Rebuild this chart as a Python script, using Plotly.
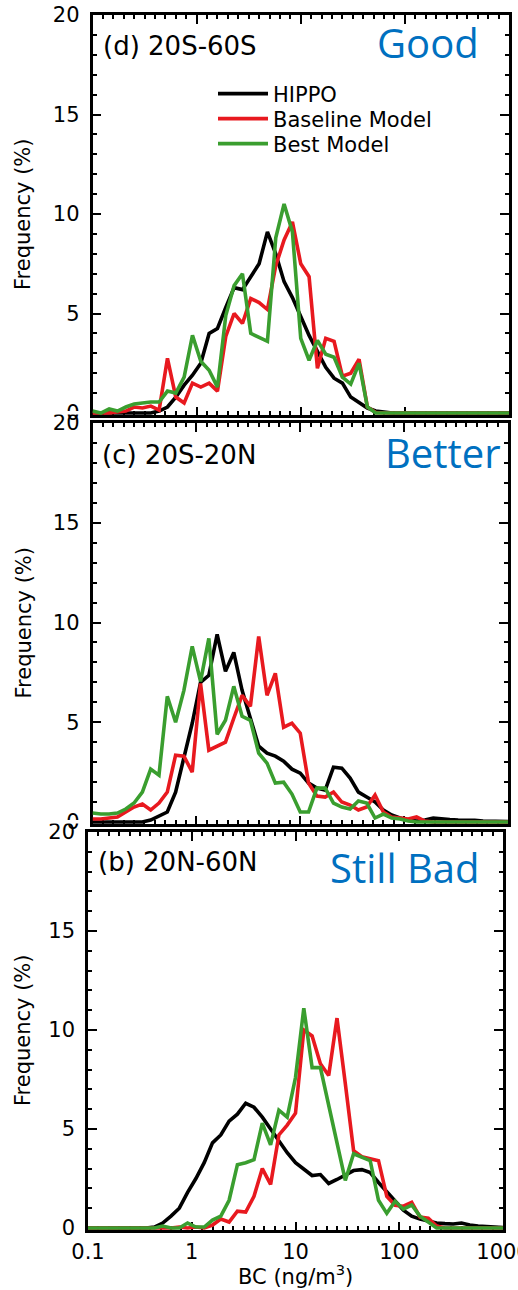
import plotly.graph_objects as go

# ---------------- data ----------------
# BC bin positions (ng/m3): log-spaced grid from 0.1 to 1000 (51 points)
BC_BINS = [round(10 ** (-1 + 0.08 * i), 5) for i in range(51)]

SERIES_NAMES = ["HIPPO", "Baseline Model", "Best Model"]
SERIES_COLORS = ["#000000", "#E8191F", "#3A9E2F"]

# (d) 20S-60S
D_HIPPO = [0, 0, 0, 0, 0, 0, 0, 0.0, 0.1, 0.3, 0.8, 1.4, 1.9, 2.5, 4.0, 4.25, 5.3, 6.3, 6.2, 6.85,
           7.5, 9.1, 8.0, 6.6, 5.8, 4.85, 3.9, 3.1, 2.3, 1.75, 1.5, 0.8, 0.5, 0.25, 0.1, 0.05,
           0, 0, 0, 0, 0, 0, 0, 0, 0, 0, 0, 0, 0, 0, 0]
D_BASE = [0, 0, 0, 0.05, 0.1, 0.3, 0.25, 0.35, 0.15, 2.75, 0.8, 0.5, 1.5, 1.3, 1.5, 1.1, 3.85, 5.0,
          4.5, 5.75, 5.55, 5.2, 7.4, 8.7, 9.6, 7.5, 6.85, 2.25, 3.75, 3.6, 1.85, 2.0, 2.7, 0.3, 0.02,
          0, 0, 0, 0, 0, 0, 0, 0, 0, 0, 0, 0, 0, 0, 0, 0]
D_BEST = [0.1, 0.0, 0.2, 0.1, 0.3, 0.45, 0.5, 0.55, 0.55, 1.1, 1.0, 1.8, 3.9, 2.6, 2.15, 1.3, 4.9,
          6.4, 7.0, 4.0, 3.8, 3.6, 8.8, 10.5, 9.1, 3.75, 2.65, 3.65, 2.95, 2.8, 1.8, 1.45, 2.5, 0.3,
          0, 0, 0, 0, 0, 0, 0, 0, 0, 0, 0, 0, 0, 0, 0, 0, 0]

# (c) 20S-20N
C_HIPPO = [0, 0, 0, 0, 0, 0, 0, 0.1, 0.3, 0.5, 1.5, 3.3, 4.95, 7.0, 7.35, 9.4, 7.55, 8.5, 6.6, 5.2,
           3.8, 3.45, 3.3, 3.05, 2.65, 2.45, 1.95, 1.7, 1.6, 2.75, 2.7, 2.2, 1.5, 1.25, 1.0, 0.6,
           0.35, 0.2, 0.1, 0.05, 0.1, 0.2, 0.15, 0.12, 0.1, 0.1, 0.08, 0.05, 0.05, 0.03, 0.02]
C_BASE = [0.15, 0.15, 0.2, 0.25, 0.5, 0.75, 0.9, 0.6, 0.95, 1.5, 3.35, 3.3, 2.5, 6.95, 3.6, 3.8,
          4.0, 5.2, 6.35, 5.8, 9.3, 6.35, 7.45, 4.75, 4.95, 4.45, 1.95, 1.3, 1.25, 1.5, 1.0, 0.85,
          0.6, 0.75, 1.35, 0.5, 0.25, 0.2, 0.15, 0.25, 0.05, 0, 0, 0, 0, 0, 0, 0, 0, 0, 0]
C_BEST = [0.45, 0.4, 0.4, 0.45, 0.65, 0.95, 1.5, 2.65, 2.35, 6.3, 5.0, 6.6, 8.8, 7.05, 9.2, 4.4,
          5.1, 6.8, 5.3, 5.1, 3.45, 2.95, 1.95, 2.0, 1.4, 0.5, 0.5, 1.7, 1.7, 0.95, 0.75, 0.65,
          1.05, 0.95, 0.2, 0.4, 0.2, 0.15, 0.05, 0, 0, 0, 0, 0, 0, 0, 0, 0, 0, 0, 0]

# (b) 20N-60N
B_HIPPO = [0, 0, 0, 0, 0, 0, 0, 0, 0.05, 0.25, 0.6, 1.0, 1.8, 2.5, 3.3, 4.3, 4.7, 5.4, 5.75, 6.3,
           6.1, 5.6, 5.0, 4.4, 3.8, 3.3, 3.0, 2.65, 2.7, 2.25, 2.45, 2.7, 2.9, 2.95, 2.8, 2.3,
           1.85, 1.35, 0.9, 0.6, 0.45, 0.35, 0.25, 0.22, 0.2, 0.25, 0.15, 0.1, 0.07, 0.03, 0.02]
B_BASE = [0, 0, 0, 0, 0, 0, 0, 0, 0, 0, 0, 0.05, 0, 0.05, 0, 0.15, 0.45, 0.3, 0.85, 0.8, 1.6,
          3.0, 2.2, 4.7, 5.2, 5.8, 10.0, 9.7, 8.3, 7.7, 10.6, 7.3, 3.9, 3.6, 3.5, 3.4, 1.6, 1.15,
          1.1, 1.3, 0.55, 0.5, 0.1, 0, 0, 0, 0, 0, 0, 0, 0]
B_BEST = [0, 0, 0, 0, 0, 0, 0, 0, 0, 0.1, 0, 0, 0.25, 0.05, 0.05, 0.4, 0.6, 1.4, 3.2, 3.3, 3.45,
          5.3, 4.2, 5.95, 5.6, 7.6, 11.1, 8.1, 8.1, 6.2, 4.3, 2.4, 3.75, 3.55, 3.4, 1.4, 0.74,
          1.35, 0.95, 1.16, 0.6, 0.3, 0, 0, 0, 0, 0, 0, 0, 0, 0]

PANEL_LABELS = ["(d) 20S-60S", "(c) 20S-20N", "(b) 20N-60N"]
VERDICTS = ["Good", "Better", "Still Bad"]
PANEL_DATA = [[D_HIPPO, D_BASE, D_BEST], [C_HIPPO, C_BASE, C_BEST], [B_HIPPO, B_BASE, B_BEST]]

X_TICKVALS = [0.1, 1, 10, 100, 1000]
X_TICKTEXT = ["0.1", "1", "10", "100", "1000"]
Y_TICKVALS = [0, 5, 10, 15, 20]

# ---------------- layout geometry (pixels) ----------------
W, H = 518, 1290
# left px, right px, px of y=20, px of y=0
GEOM = [(92.5, 509, 15, 413), (92.5, 508, 423, 822), (88, 503, 832, 1228)]
YMIN = -0.12
LBL_POS = [(101, 46), (100, 455), (96, 862)]
VERD_POS = [(481, 42), (503, 452), (481, 867)]
LEG_X = 213
LEG_Y = [94, 119, 144]

FONT = "DejaVu Sans"

fig = go.Figure()
annotations = []
shapes = []
legend_keys = ["legend", "legend2", "legend3"]
for k in range(3):
    x0, x1, yt, yb = GEOM[k]
    ppu = (yb - yt) / 20.0
    ybot_px = yb - YMIN * ppu
    xa = "x" if k == 0 else f"x{k+1}"
    ya = "y" if k == 0 else f"y{k+1}"
    for s in range(3):
        fig.add_trace(go.Scatter(
            x=BC_BINS, y=PANEL_DATA[k][s], mode="lines", name=SERIES_NAMES[s],
            line=dict(color=SERIES_COLORS[s], width=3.6), xaxis=xa, yaxis=ya,
            showlegend=(k == 0), legend=legend_keys[s], hoverinfo="skip"))
    axkey = "xaxis" if k == 0 else f"xaxis{k+1}"
    aykey = "yaxis" if k == 0 else f"yaxis{k+1}"
    fig.layout[axkey] = dict(
        type="log", range=[-1, 3], domain=[x0 / W, x1 / W], anchor=ya, automargin=False,
        showline=True, linecolor="black", linewidth=2.5, mirror="allticks",
        ticks="inside", ticklen=9, tickwidth=2, tickcolor="black",
        tickvals=X_TICKVALS, ticktext=X_TICKTEXT, showticklabels=(k == 2),
        ticklabeloverflow="allow", ticklabelstandoff=1,
        showgrid=False, zeroline=False, layer="below traces",
        tickfont=dict(family=FONT, size=21, color="black"),
        minor=dict(tickvals=[10 ** (j / 10) for j in range(-10, 31) if j % 10],
                   ticks="inside", ticklen=4.5, tickwidth=1.6, tickcolor="black", showgrid=False),
    )
    fig.layout[aykey] = dict(
        range=[YMIN, 20], domain=[1 - ybot_px / H, 1 - yt / H], anchor=xa, automargin=False,
        showline=True, linecolor="black", linewidth=2.5, mirror="allticks",
        ticks="inside", ticklen=9, tickwidth=2, tickcolor="black",
        tickvals=Y_TICKVALS, showgrid=False, zeroline=False, layer="below traces",
        ticklabelstandoff=6, ticklabeloverflow="allow",
        tickfont=dict(family=FONT, size=21, color="black"),
        minor=dict(dtick=1, ticks="inside", ticklen=4.5, tickwidth=1.6, tickcolor="black",
                   showgrid=False),
    )
    annotations.append(dict(text=PANEL_LABELS[k], x=LBL_POS[k][0] / W, y=1 - LBL_POS[k][1] / H,
                            xref="paper", yref="paper", xanchor="left", yanchor="middle",
                            showarrow=False, font=dict(family=FONT, size=26, color="black")))
    annotations.append(dict(text=VERDICTS[k], x=VERD_POS[k][0] / W, y=1 - VERD_POS[k][1] / H,
                            xref="paper", yref="paper", xanchor="right", yanchor="middle",
                            showarrow=False, font=dict(family="Open Sans", size=40, color="#0070C0")))
    annotations.append(dict(text="Frequency (%)", x=23 / W, y=1 - ((yt + yb) / 2) / H,
                            xref="paper", yref="paper", xanchor="center", yanchor="middle",
                            textangle=-90, showarrow=False,
                            font=dict(family=FONT, size=21, color="black")))
    if k < 2:
        # the next panel overlaps the bottom of this one (hides the lower part of its "0")
        shapes.append(dict(type="rect", xref="paper", yref="paper", layer="above",
                           x0=30 / W, x1=(x0 - 6) / W, y0=1 - (yb + 1.5) / H, y1=1 - (yb - 2) / H,
                           fillcolor="white", line=dict(width=0)))

annotations.append(dict(text="BC (ng/m<sup>3</sup>)", x=295 / W, y=1 - 1275 / H,
                        xref="paper", yref="paper", xanchor="center", yanchor="middle",
                        showarrow=False, font=dict(family=FONT, size=21, color="black")))

leg_common = dict(xanchor="left", yanchor="middle", bgcolor="rgba(0,0,0,0)",
                  font=dict(family=FONT, size=21, color="black"), itemwidth=50)
fig.update_layout(
    template="none",
    width=W, height=H, margin=dict(l=0, r=0, t=0, b=0, autoexpand=False),
    paper_bgcolor="white", plot_bgcolor="white",
    annotations=annotations, shapes=shapes,
    legend=dict(x=LEG_X / W, y=1 - LEG_Y[0] / H, **leg_common),
    legend2=dict(x=LEG_X / W, y=1 - LEG_Y[1] / H, **leg_common),
    legend3=dict(x=LEG_X / W, y=1 - LEG_Y[2] / H, **leg_common),
)

fig.write_html("out.html")
